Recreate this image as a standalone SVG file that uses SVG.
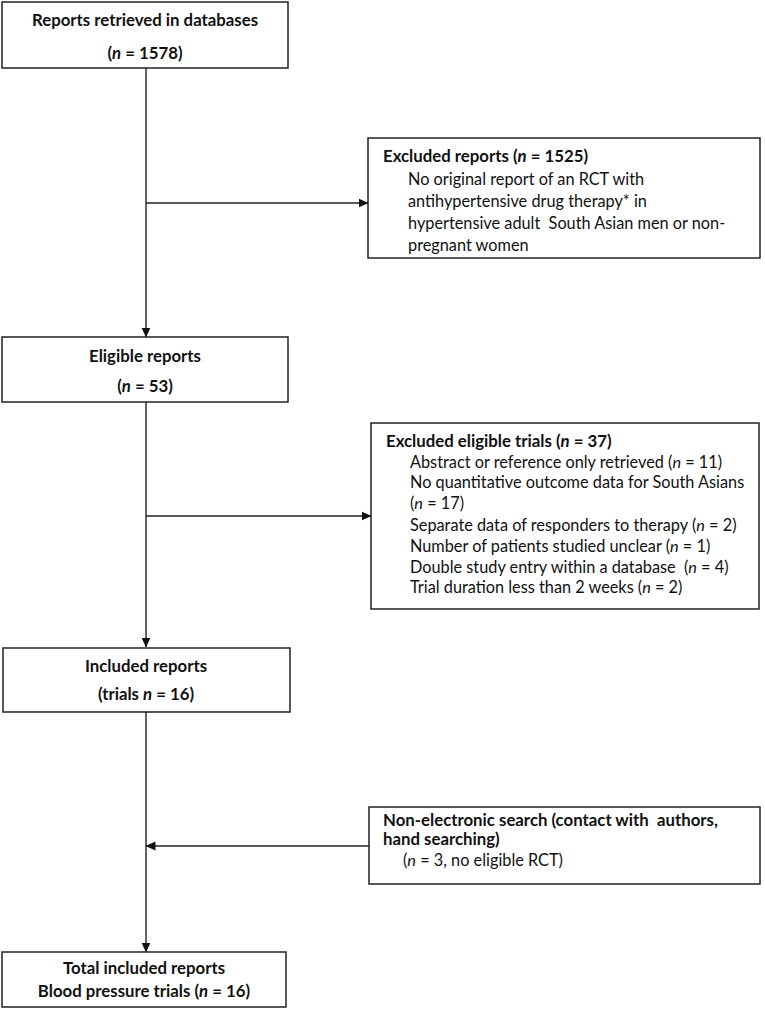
<svg xmlns="http://www.w3.org/2000/svg" width="765" height="1009" viewBox="0 0 765 1009">
<style>
.box{fill:#fff;stroke:#222;stroke-width:1.5}
text{font-family:Lato,"Liberation Sans",sans-serif;font-size:16.3px;fill:#111;white-space:pre}
.b{font-weight:bold;font-size:16.8px}
.c{text-anchor:middle}
.ln{stroke:#222;stroke-width:1.4;fill:none}
</style>
<defs>
<marker id="ah" markerWidth="10" markerHeight="10" refX="9.5" refY="5" orient="auto" markerUnits="userSpaceOnUse">
<path d="M0,0.5 L10,5 L0,9.5 Z" fill="#111"/>
</marker>
</defs>
<g id="connectors">
<line class="ln" x1="146" y1="68" x2="146" y2="337" marker-end="url(#ah)"/>
<line class="ln" x1="146" y1="203" x2="368" y2="203" marker-end="url(#ah)"/>
<line class="ln" x1="146" y1="402" x2="146" y2="647" marker-end="url(#ah)"/>
<line class="ln" x1="146" y1="516" x2="371" y2="516" marker-end="url(#ah)"/>
<line class="ln" x1="146" y1="712" x2="146" y2="952" marker-end="url(#ah)"/>
<line class="ln" x1="369" y1="846" x2="146" y2="846" marker-end="url(#ah)"/>
</g>
<g id="n1">
<rect class="box" x="2" y="2" width="286" height="66"/>
<text class="b c" x="145" y="26">Reports retrieved in databases</text>
<text class="b c" x="145" y="59">(<tspan font-style="italic">n</tspan> = 1578)</text>
</g>
<g id="n2">
<rect class="box" x="368" y="138" width="392" height="120"/>
<text class="b" x="383" y="162">Excluded reports (<tspan font-style="italic">n</tspan> = 1525)</text>
<text x="408" y="185">No original report of an RCT with</text>
<text x="408" y="207">antihypertensive drug therapy* in</text>
<text x="408" y="229">hypertensive adult  South Asian men or non-</text>
<text x="408" y="251">pregnant women</text>
</g>
<g id="n3">
<rect class="box" x="2" y="337" width="286" height="65"/>
<text class="b c" x="145" y="362">Eligible reports</text>
<text class="b c" x="145" y="392">(<tspan font-style="italic">n</tspan> = 53)</text>
</g>
<g id="n4">
<rect class="box" x="371" y="423" width="388" height="186"/>
<text class="b" x="386" y="447">Excluded eligible trials (<tspan font-style="italic">n</tspan> = 37)</text>
<text x="410" y="468">Abstract or reference only retrieved (<tspan font-style="italic">n</tspan> = 11)</text>
<text x="410" y="488">No quantitative outcome data for South Asians</text>
<text x="410" y="509">(<tspan font-style="italic">n</tspan> = 17)</text>
<text x="410" y="531">Separate data of responders to therapy (<tspan font-style="italic">n</tspan> = 2)</text>
<text x="410" y="552">Number of patients studied unclear (<tspan font-style="italic">n</tspan> = 1)</text>
<text x="410" y="573">Double study entry within a database  (<tspan font-style="italic">n</tspan> = 4)</text>
<text x="410" y="593">Trial duration less than 2 weeks (<tspan font-style="italic">n</tspan> = 2)</text>
</g>
<g id="n5">
<rect class="box" x="3" y="648" width="287" height="64"/>
<text class="b c" x="146" y="672">Included reports</text>
<text class="b c" x="146" y="700">(trials <tspan font-style="italic">n</tspan> = 16)</text>
</g>
<g id="n6">
<rect class="box" x="369" y="807" width="391" height="77"/>
<text class="b" x="383" y="826">Non-electronic search (contact with  authors,</text>
<text class="b" x="383" y="845">hand searching)</text>
<text x="403" y="866">(<tspan font-style="italic">n</tspan> = 3, no eligible RCT)</text>
</g>
<g id="n7">
<rect class="box" x="2" y="952" width="284" height="55"/>
<text class="b c" x="144" y="974">Total included reports</text>
<text class="b c" x="144" y="997">Blood pressure trials (<tspan font-style="italic">n</tspan> = 16)</text>
</g>
</svg>
